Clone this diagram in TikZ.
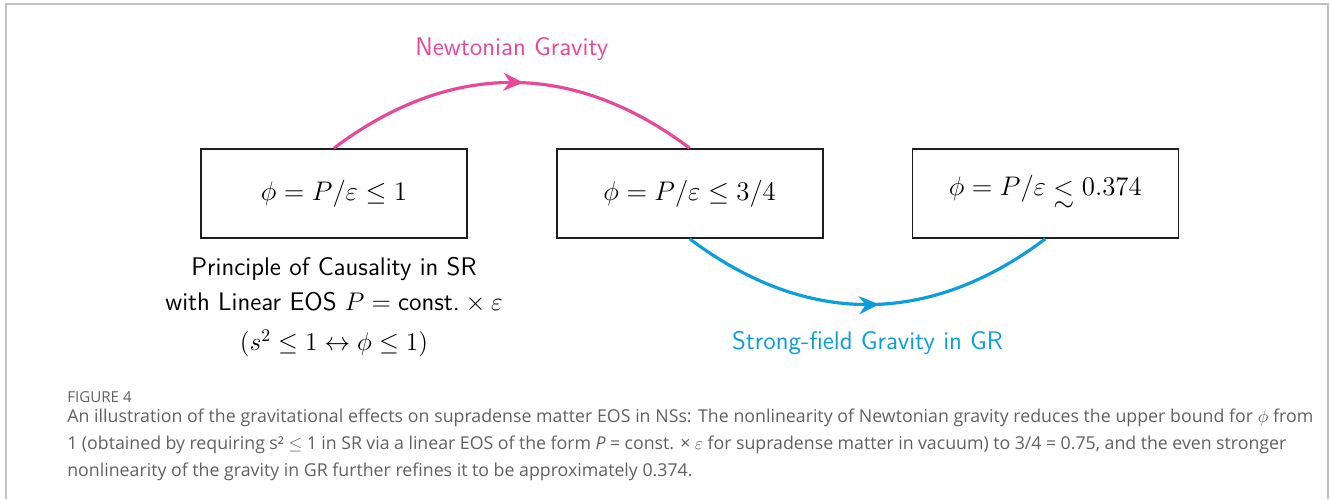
\RequirePackage{fix-cm}
\documentclass[tikz,border=0pt]{standalone}
\usepackage{amsmath,amssymb}
\usepackage{fontspec}
\usetikzlibrary{arrows.meta,positioning,decorations.markings}
\newfontfamily\capfont{Open Sans}
\definecolor{NewtPink}{HTML}{E8489A}
\definecolor{GRBlue}{HTML}{0C9DDE}
\definecolor{FrameGray}{HTML}{C2C2C2}
\definecolor{CapGray}{HTML}{606060}
\newcommand{\approxle}{\mathrel{\vtop{\offinterlineskip\hbox{$<$}\kern3pt\hbox{$\sim$}}}}
\tikzset{
  boundbox/.style={draw=black!88, line width=0.95pt, minimum width=5.32cm, minimum height=1.78cm, inner sep=0pt, font=\fontsize{15.3}{18}\selectfont},
  gravarrow/.style={line width=1.8pt, postaction={decorate}, decoration={markings, mark=at position 0.53 with {\arrow{Stealth[length=4mm,width=3.6mm]}}}},
  gravlabel/.style={font=\sffamily\fontsize{14.5}{19.9}\selectfont, align=center},
  captext/.style={anchor=base west, inner sep=0pt, text=CapGray, font=\capfont\fontsize{10.1}{12}\selectfont},
}

\begin{document}
\begin{tikzpicture}
\useasboundingbox (0,0) rectangle (26.6,9.98);
% outer frame
\draw[FrameGray,line width=1.1pt] (0.12,0) -- (0.12,9.9) -- (26.56,9.9) -- (26.56,0);

% bounds on phi
\node[boundbox] (causal) at (6.68,6.11) {$\phi = P/\varepsilon \leq 1$};
\node[boundbox,right=1.76cm of causal] (newton) {$\phi = P/\varepsilon \leq 3/4$};
\node[boundbox,right=1.76cm of newton] (strong) {$\phi = P/\varepsilon \approxle 0.374$};

\node[gravlabel,below=0.25cm of causal] (srlabel) {Principle of Causality in SR\\with Linear EOS $P=\text{const.}\times\varepsilon$\\[3pt]$(s^2\leq 1\leftrightarrow\phi\leq 1)$};

% gravity arrows
\draw[gravarrow,NewtPink] (causal.north) to[bend left=37,looseness=1.05] node[midway,above=0.29cm,gravlabel,text=NewtPink] (newtlabel) {Newtonian Gravity} (newton.north);
\draw[gravarrow,GRBlue] (newton.south) to[bend right=37,looseness=1.05] node[midway,below=0.38cm,gravlabel,text=GRBlue] (grlabel) {Strong-field Gravity in GR} (strong.south);

% caption
\node[captext,font=\capfont\fontsize{8.6}{10}\selectfont] (figno) at (1.34,1.94) {FIGURE 4};
\node[captext] (cap1) at (1.34,1.54) {\makebox[24.92cm][s]{An illustration of the gravitational effects on supradense matter EOS in NSs: The nonlinearity of Newtonian gravity reduces the upper bound for $\phi$ from}};
\node[captext] (cap2) at (1.34,1.00) {\makebox[24.38cm][s]{1 (obtained by requiring s² $\leq$ 1 in SR via a linear EOS of the form \textit{P} = const. × $\varepsilon$ for supradense matter in vacuum) to 3/4 = 0.75, and the even stronger}};
\node[captext] (cap3) at (1.34,0.46) {nonlinearity of the gravity in GR further refines it to be approximately 0.374.};
\end{tikzpicture}
\end{document}
